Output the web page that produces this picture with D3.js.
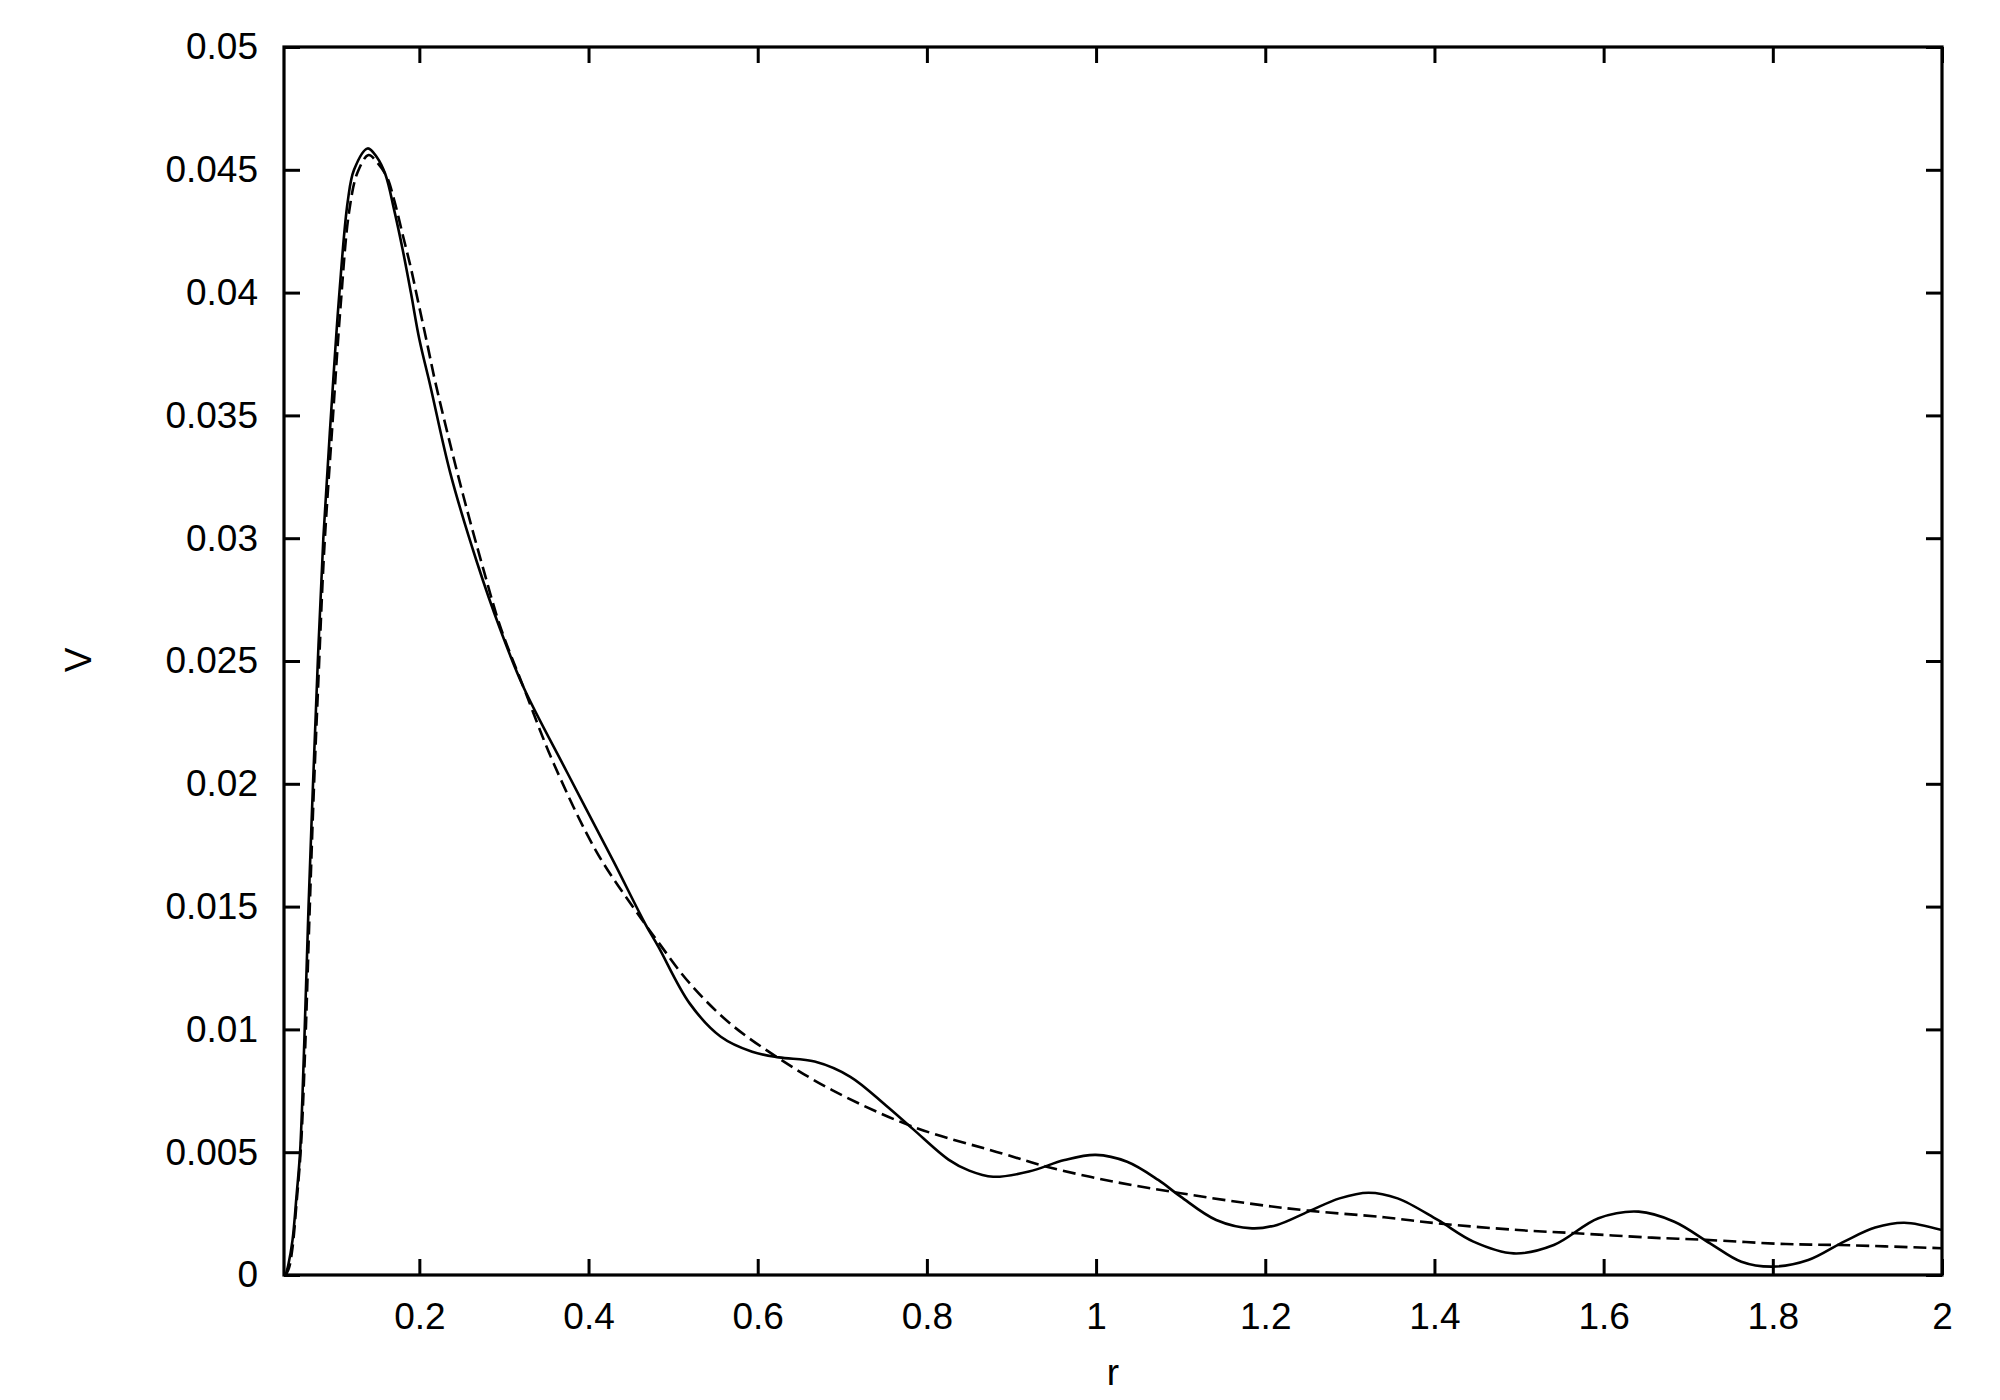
<!DOCTYPE html>
<html>
<head>
<meta charset="utf-8">
<script src="https://cdn.jsdelivr.net/npm/d3@7"></script>
<style>
  body { margin: 0; background: #fff; }
  text { font-family: "Liberation Sans", Arial, Helvetica, sans-serif; fill: #000; }
</style>
</head>
<body>
<div id="chart"></div>
<script>
const width = 2000;
const height = 1400;
const margin = {left: 284, right: 58, top: 47, bottom: 125};

// solid curve (oscillating)
const solidR = [0.042, 0.045, 0.05, 0.055, 0.059, 0.064, 0.069, 0.0743, 0.080, 0.0865, 0.0955, 0.1055, 0.1153, 0.1228, 0.1389,
  0.15, 0.16, 0.17, 0.18, 0.19, 0.2, 0.213, 0.2366, 0.2682, 0.2957, 0.3233, 0.3746, 0.4297, 0.4667, 0.4825, 0.5195, 0.5564,
  0.5934, 0.625, 0.6673, 0.7095, 0.7516, 0.7833, 0.8255, 0.85, 0.8783, 0.9206, 0.9628, 0.9996, 1.0367, 1.0735, 1.1, 1.142,
  1.1844, 1.214, 1.2509, 1.2878, 1.3221, 1.3564, 1.4039, 1.4461, 1.4936, 1.5411, 1.5939, 1.6414, 1.6836, 1.7258,
  1.7628, 1.7997, 1.8419, 1.8842, 1.921, 1.9553, 2.0];
const solidV = [0, 0.0004, 0.0014, 0.0033, 0.005, 0.0095, 0.015, 0.02, 0.025, 0.03, 0.035, 0.04, 0.0437, 0.045, 0.04587,
  0.0455, 0.0448, 0.0434, 0.0418, 0.0400, 0.0381, 0.0362, 0.03265, 0.02901, 0.02628, 0.02392, 0.02047, 0.01683, 0.01432, 0.01337, 0.01106, 0.0097,
  0.00909, 0.00886, 0.00869, 0.00807, 0.0069, 0.00595, 0.0047, 0.00425, 0.0040, 0.00421, 0.00468, 0.00489, 0.00461, 0.00387, 0.00319, 0.00224,
  0.0019, 0.00204, 0.00258, 0.00312, 0.00335, 0.00312, 0.00224, 0.00136, 0.00088, 0.00122, 0.00231, 0.00258, 0.00217, 0.00129,
  0.00054, 0.00034, 0.00061, 0.00136, 0.00193, 0.00213, 0.00183];

// dashed curve (smooth)
const dashR = [0.042, 0.046, 0.05, 0.055, 0.06, 0.065, 0.07, 0.075, 0.081, 0.0875, 0.097, 0.107, 0.117, 0.127, 0.140,
  0.15, 0.1618, 0.17, 0.18, 0.19, 0.2, 0.21, 0.2189, 0.2484, 0.276, 0.2957, 0.3233, 0.3588, 0.41, 0.4615, 0.4825, 0.5195, 0.567,
  0.625, 0.688, 0.7833, 0.889, 0.9416, 1.0208, 1.1, 1.179, 1.2509, 1.3405, 1.404, 1.499, 1.5675, 1.657, 1.7206,
  1.8155, 1.879, 2.0];
const dashV = [0, 0.0003, 0.0011, 0.003, 0.0052, 0.0092, 0.0145, 0.0195, 0.0245, 0.0295, 0.0345, 0.0395, 0.0433, 0.0449, 0.0456,
  0.0453, 0.0447, 0.0438, 0.0424, 0.0410, 0.0394, 0.0378, 0.03635, 0.0322, 0.0287, 0.0264, 0.02392, 0.02083, 0.0172, 0.01455, 0.01355, 0.01188, 0.01025,
  0.00882, 0.00753, 0.00604, 0.00495, 0.00441, 0.0038, 0.00333, 0.00292, 0.00262, 0.00235, 0.0021, 0.00183, 0.0017, 0.00152, 0.00143,
  0.00126, 0.00122, 0.00109];

const xTicks = [0.2, 0.4, 0.6, 0.8, 1, 1.2, 1.4, 1.6, 1.8, 2];
const yTicks = [0, 0.005, 0.01, 0.015, 0.02, 0.025, 0.03, 0.035, 0.04, 0.045, 0.05];

const svg = d3.select("#chart")
    .append("svg")
    .attr("width", width)
    .attr("height", height);

const x = d3.scaleLinear().domain([0.04, 2]).range([margin.left, width - margin.right]);
const y = d3.scaleLinear().domain([0, 0.05]).range([height - margin.bottom, margin.top]);

const fontSize = 37;
const tickLen = 16;

// axes with inward ticks, mirrored on top and right
const styleAxis = g => {
  g.select(".domain").remove();
  g.selectAll(".tick line").attr("stroke", "#000").attr("stroke-width", 3);
  g.selectAll(".tick text").attr("font-size", fontSize).attr("font-family", null);
};

svg.append("g")
    .attr("transform", `translate(0,${y(0)})`)
    .call(d3.axisBottom(x).tickValues(xTicks).tickSizeInner(-tickLen).tickSizeOuter(0)
      .tickPadding(28).tickFormat(d3.format("")))
    .call(styleAxis);

svg.append("g")
    .attr("transform", `translate(0,${y(0.05)})`)
    .call(d3.axisTop(x).tickValues(xTicks).tickSizeInner(-tickLen).tickSizeOuter(0).tickFormat(""))
    .call(styleAxis);

svg.append("g")
    .attr("transform", `translate(${x(0.04)},0)`)
    .call(d3.axisLeft(y).tickValues(yTicks).tickSizeInner(-tickLen).tickSizeOuter(0)
      .tickPadding(26).tickFormat(d3.format("")))
    .call(styleAxis);

svg.append("g")
    .attr("transform", `translate(${x(2)},0)`)
    .call(d3.axisRight(y).tickValues(yTicks).tickSizeInner(-tickLen).tickSizeOuter(0).tickFormat(""))
    .call(styleAxis);

// frame
svg.append("rect")
    .attr("x", x(0.04))
    .attr("y", y(0.05))
    .attr("width", x(2) - x(0.04))
    .attr("height", y(0) - y(0.05))
    .attr("fill", "none")
    .attr("stroke", "#000")
    .attr("stroke-width", 3.2);

svg.append("clipPath").attr("id", "clip")
  .append("rect")
    .attr("x", x(0.04))
    .attr("y", y(0.05))
    .attr("width", x(2) - x(0.04))
    .attr("height", y(0) - y(0.05));

const line = d3.line()
    .x(d => x(d[0]))
    .y(d => y(d[1]))
    .curve(d3.curveCatmullRom.alpha(0.5));

const solid = solidR.map((r, i) => [r, solidV[i]]);
const dashed = dashR.map((r, i) => [r, dashV[i]]);

svg.append("path")
    .datum(dashed)
    .attr("clip-path", "url(#clip)")
    .attr("d", line)
    .attr("fill", "none")
    .attr("stroke", "#000")
    .attr("stroke-width", 2.6)
    .attr("stroke-dasharray", "13,6");

svg.append("path")
    .datum(solid)
    .attr("clip-path", "url(#clip)")
    .attr("d", line)
    .attr("fill", "none")
    .attr("stroke", "#000")
    .attr("stroke-width", 2.6);

// axis labels
svg.append("text")
    .attr("x", (x(0.04) + x(2)) / 2)
    .attr("y", 1385)
    .attr("text-anchor", "middle")
    .attr("font-size", fontSize)
    .text("r");

svg.append("text")
    .attr("transform", "translate(91,660) rotate(-90)")
    .attr("text-anchor", "middle")
    .attr("font-size", fontSize)
    .text("V");
</script>
</body>
</html>
